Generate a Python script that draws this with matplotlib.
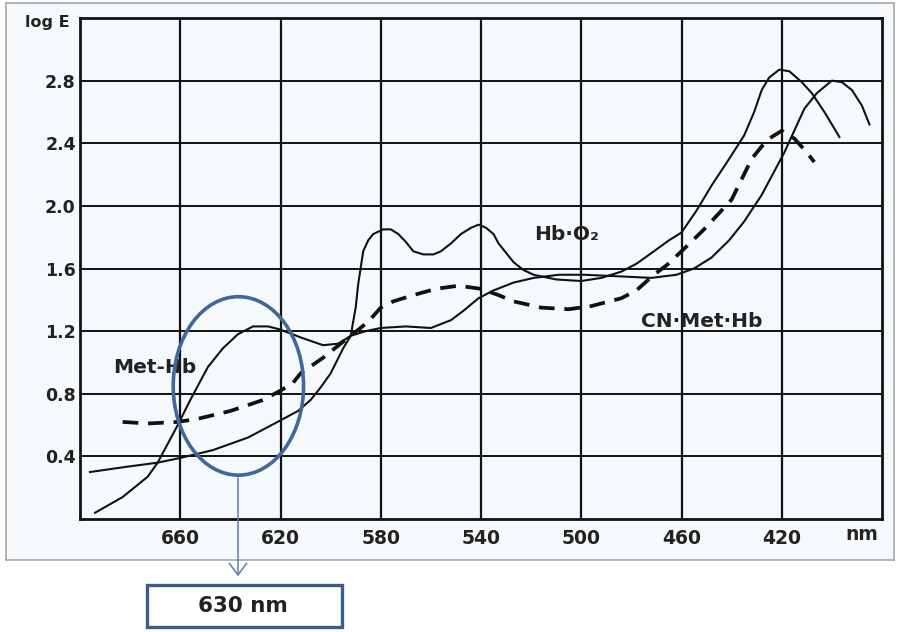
import matplotlib
matplotlib.use("Agg")
import matplotlib.pyplot as plt
from matplotlib.patches import Ellipse, Rectangle, FancyArrowPatch

# ---------------- data ----------------
methb_wl = [694, 683, 673, 669, 661, 656, 649, 643, 637, 631, 625, 620, 612, 603, 597,
            592, 586, 580, 570, 560, 552, 547, 541, 535, 527, 519, 509, 499, 485, 472,
            462, 455, 448, 441, 435, 428, 423, 419, 415, 411, 406, 400, 396, 392, 388, 385]
methb_val = [0.04, 0.14, 0.27, 0.36, 0.60, 0.76, 0.97, 1.09, 1.18, 1.23, 1.23, 1.21, 1.16, 1.11, 1.12,
             1.17, 1.20, 1.22, 1.23, 1.22, 1.27, 1.33, 1.41, 1.46, 1.51, 1.54, 1.56, 1.56, 1.55, 1.54,
             1.56, 1.60, 1.67, 1.78, 1.90, 2.07, 2.22, 2.34, 2.48, 2.62, 2.72, 2.80, 2.79, 2.74, 2.64, 2.52]

hbo2_wl = [696, 683, 669, 660, 647, 633, 620, 613, 608, 604, 600, 595, 592, 590, 589, 587, 585,
           583, 579, 576, 573, 570, 567, 563, 559, 556, 552, 548, 544, 541, 538, 535, 533, 530,
           527, 523, 519, 510, 500, 492, 484, 478, 471, 465, 460, 454, 448, 441, 435, 431, 428,
           425, 421, 417, 412, 408, 403, 397]
hbo2_val = [0.30, 0.33, 0.36, 0.39, 0.44, 0.52, 0.63, 0.69, 0.76, 0.84, 0.93, 1.09, 1.17, 1.35, 1.50, 1.71, 1.78,
            1.82, 1.85, 1.85, 1.82, 1.77, 1.71, 1.69, 1.69, 1.71, 1.76, 1.82, 1.86, 1.88, 1.86, 1.82, 1.76, 1.70,
            1.64, 1.59, 1.56, 1.53, 1.52, 1.54, 1.58, 1.63, 1.71, 1.78, 1.83, 1.97, 2.13, 2.30, 2.45, 2.60, 2.74,
            2.82, 2.87, 2.86, 2.79, 2.72, 2.60, 2.44]

cnmethb_wl = [683, 673, 661, 653, 640, 627, 620, 615, 612, 603, 596, 592, 585, 580, 575, 567, 558,
              549, 540, 533, 527, 516, 505, 496, 484, 478, 471, 466, 460, 451, 440, 432, 428, 425,
              420, 415, 411, 407]
cnmethb_val = [0.62, 0.61, 0.62, 0.64, 0.69, 0.76, 0.82, 0.87, 0.93, 1.03, 1.12, 1.17, 1.26, 1.35, 1.39, 1.43, 1.47,
               1.49, 1.47, 1.43, 1.39, 1.35, 1.34, 1.36, 1.41, 1.46, 1.56, 1.62, 1.71, 1.85, 2.04, 2.30, 2.38, 2.43,
               2.48, 2.43, 2.36, 2.28]

x_ticks = [660, 620, 580, 540, 500, 460, 420]
y_ticks = [0.4, 0.8, 1.2, 1.6, 2.0, 2.4, 2.8]
y_tick_labels = ["0.4", "0.8", "1.2", "1.6", "2.0", "2.4", "2.8"]

# ---------------- figure ----------------
W, H = 902, 632
fig = plt.figure(figsize=(W / 100, H / 100), dpi=100, facecolor="white")

def fx(px):
    return px / W

def fy(py):
    return 1 - py / H

# scanned-picture frame (background axes)
bg = fig.add_axes([fx(6), fy(560), fx(894) - fx(6), fy(3) - fy(560)], zorder=0)
bg.set_facecolor("#f6f9fb")
bg.set_xticks([])
bg.set_yticks([])
for s in bg.spines.values():
    s.set_color("#a8a8a8")
    s.set_linewidth(1.2)

ax = fig.add_axes([fx(80), fy(519), fx(882) - fx(80), fy(18) - fy(519)], zorder=2)
ax.set_facecolor("none")
ax.set_xlim(700, 380)
ax.set_ylim(0, 3.2)

for x in x_ticks:
    ax.axvline(x, color="#111111", lw=1.6, zorder=1)
for y in y_ticks:
    ax.axhline(y, color="#111111", lw=1.4, zorder=1)

for s in ax.spines.values():
    s.set_color("#111111")
    s.set_linewidth(2.0)

ax.set_xticks(x_ticks)
ax.set_xticklabels([str(v) for v in x_ticks], fontsize=13.5, fontweight="bold", color="#222222")
ax.set_yticks(y_ticks)
ax.set_yticklabels(y_tick_labels, fontsize=12.5, fontweight="bold", color="#222222")
ax.tick_params(length=0, pad=3)
ax.tick_params(axis="x", pad=7)

ax.plot(methb_wl, methb_val, color="#111111", lw=1.5, zorder=3)
ax.plot(hbo2_wl, hbo2_val, color="#111111", lw=1.5, zorder=3)
ax.plot(cnmethb_wl, cnmethb_val, color="#111111", lw=2.7, ls=(0, (4.2, 2.6)), zorder=3)

# curve labels
ax.text(670, 0.965, "Met-Hb", fontsize=14.5, fontweight="bold", color="#222222",
        ha="center", va="center", zorder=4)
ax.text(506, 1.82, "Hb·O₂", fontsize=14.5, fontweight="bold", color="#222222",
        ha="center", va="center", zorder=4)
ax.text(452, 1.26, "CN·Met·Hb", fontsize=14.5, fontweight="bold", color="#222222",
        ha="center", va="center", zorder=4)

fig.text(fx(47), fy(22), "log E", fontsize=11.5, fontweight="bold", color="#222222",
         ha="center", va="center", zorder=5)
fig.text(fx(862), fy(534), "nm", fontsize=13.5, fontweight="bold", color="#222222",
         ha="center", va="center", zorder=5)

# annotation: ellipse around 630 nm
ax.add_patch(Ellipse((636.8, 0.85), 52, 1.14, fill=False, edgecolor="#41679b",
                     linewidth=2.6, zorder=5))

arrow = FancyArrowPatch((fx(238), fy(475)), (fx(238), fy(579)), transform=fig.transFigure,
                        arrowstyle="->,head_length=0.6,head_width=0.45",
                        color="#5b7fb3", linewidth=1.1, mutation_scale=14, zorder=5)
fig.patches.append(arrow)

fig.patches.append(Rectangle((fx(147), fy(627)), fx(342) - fx(147), fy(585) - fy(627),
                             transform=fig.transFigure, facecolor="white",
                             edgecolor="#3d5a8a", linewidth=2.4, zorder=5))
fig.text(fx(243), fy(606), "630 nm", fontsize=15.5, fontweight="bold", color="#222222",
         ha="center", va="center", zorder=6)

fig.savefig("out.png", dpi=100, facecolor="white")
